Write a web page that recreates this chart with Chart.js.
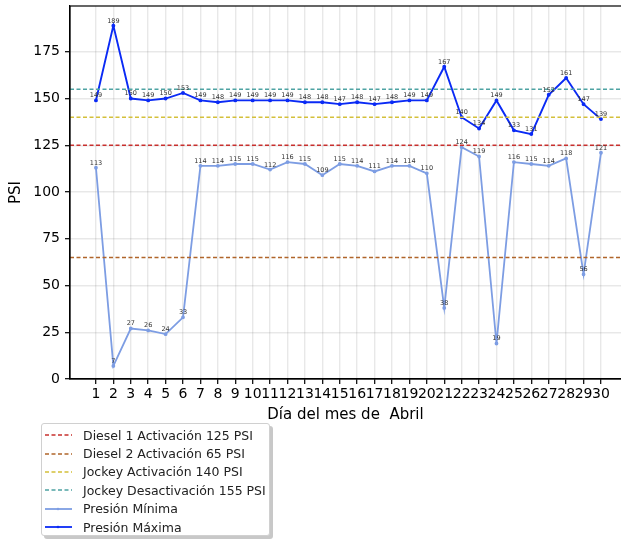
<!DOCTYPE html>
<html>
<head>
<meta charset="utf-8">
<script src="https://cdn.jsdelivr.net/npm/chart.js@4.4.0/dist/chart.umd.min.js"></script>
<style>
  body { margin: 0; background: #fff; }
  #wrap { position: relative; width: 621px; height: 539px; }
  #legend {
    position: absolute; left: 41px; top: 423px; width: 229px; height: 113px;
    border: 1px solid #d0d0d0; border-radius: 3px; background: #fff;
    box-shadow: 3px 3px 0 #c8c8c8;
    font-family: "DejaVu Sans", sans-serif; font-size: 12.5px; color: #222;
    box-sizing: border-box; padding-top: 2px;
  }
  #legend .row { height: 18.4px; display: flex; align-items: center; }
  #legend svg { margin-left: 3px; margin-right: 11px; }
</style>
</head>
<body>
<div id="wrap">
  <canvas id="psichart" width="621" height="539"></canvas>
  <div id="legend"></div>
</div>
<script>
var psiCanvas = document.getElementById("psichart");

/* data */
var days = [1,2,3,4,5,6,7,8,9,10,11,12,13,14,15,16,17,18,19,20,21,22,23,24,25,26,27,28,29,30];
var presionMinima = [113, 7, 27, 26, 24, 33, 114, 114, 115, 115, 112, 116, 115, 109, 115,
                     114, 111, 114, 114, 110, 38, 124, 119, 19, 116, 115, 114, 118, 56, 121];
var presionMaxima = [149, 189, 150, 149, 150, 153, 149, 148, 149, 149, 149, 149, 148, 148, 147,
                     148, 147, 148, 149, 149, 167, 140, 134, 149, 133, 131, 152, 161, 147, 139];
var umbrales = [125, 65, 140, 155];
var umbralLabels = ['Diesel 1 Activación 125 PSI', 'Diesel 2 Activación 65 PSI',
                    'Jockey Activación 140 PSI', 'Jockey Desactivación 155 PSI'];
var umbralColors = ['#c8302e', '#b0652a', '#d4c03a', '#4ea3a3'];
var yTicks = [0, 25, 50, 75, 100, 125, 150, 175];

var X_MIN = -0.49, X_MAX = 31.15;

var datasets = [];
umbrales.forEach(function (v, i) {
  datasets.push({
    label: umbralLabels[i],
    data: [{x: X_MIN, y: v}, {x: X_MAX, y: v}],
    borderColor: umbralColors[i],
    borderWidth: 1.5,
    borderDash: [4, 2.5],
    pointRadius: 0,
    fill: false
  });
});
datasets.push({
  label: 'Presión Mínima',
  data: days.map(function (d, i) { return {x: d, y: presionMinima[i]}; }),
  borderColor: '#7d9de3',
  backgroundColor: '#7d9de3',
  borderWidth: 1.8,
  pointRadius: 1,
  fill: false,
  valueLabels: true
});
datasets.push({
  label: 'Presión Máxima',
  data: days.map(function (d, i) { return {x: d, y: presionMaxima[i]}; }),
  borderColor: '#0a2af5',
  backgroundColor: '#0a2af5',
  borderWidth: 1.9,
  pointRadius: 1,
  fill: false,
  valueLabels: true
});

// little numbers over each point
var valueLabelPlugin = {
  id: 'valueLabels',
  afterDatasetsDraw: function (chart) {
    var ctx = chart.ctx;
    ctx.save();
    ctx.font = '6.5px "DejaVu Sans"';
    ctx.fillStyle = '#333';
    ctx.textAlign = 'center';
    ctx.textBaseline = 'bottom';
    chart.data.datasets.forEach(function (ds, di) {
      if (!ds.valueLabels) return;
      chart.getDatasetMeta(di).data.forEach(function (pt, i) {
        ctx.fillText(ds.data[i].y, pt.x, pt.y - 1.5);
      });
    });
    ctx.restore();
  }
};

// axes frame (top spine too)
var framePlugin = {
  id: 'frame',
  afterDraw: function (chart) {
    var a = chart.chartArea, ctx = chart.ctx;
    ctx.save();
    ctx.strokeStyle = '#000';
    ctx.lineWidth = 1.2;
    ctx.strokeRect(a.left, a.top, a.right - a.left + 2, a.bottom - a.top);
    ctx.restore();
  }
};

var psiChart = new Chart(psiCanvas, {
  type: 'line',
  data: { datasets: datasets },
  plugins: [valueLabelPlugin, framePlugin],
  options: {
    responsive: false,
    animation: false,
    layout: { autoPadding: false, padding: { top: 6, right: 0, left: 0, bottom: 113 } },
    plugins: { legend: { display: false }, tooltip: { enabled: false } },
    scales: {
      x: {
        type: 'linear',
        min: X_MIN,
        max: X_MAX,
        afterBuildTicks: function (s) { s.ticks = days.map(function (d) { return {value: d}; }); },
        afterFit: function (s) { s.height = 47; s.paddingLeft = 0; s.paddingRight = 0; },
        ticks: { color: '#000', font: { family: 'DejaVu Sans', size: 14 }, padding: 2, maxRotation: 0, autoSkip: false },
        grid: { color: 'rgba(0,0,0,0.09)', lineWidth: 1.4, tickColor: '#000', tickLength: 5, tickWidth: 1.2 },
        border: { display: true, color: '#000', width: 1.2 },
        title: { display: true, text: 'Día del mes de  Abril', color: '#000',
                 font: { family: 'DejaVu Sans', size: 15 }, padding: { top: 0, bottom: 2 } }
      },
      y: {
        min: 0,
        max: 199.5,
        afterBuildTicks: function (s) { s.ticks = yTicks.map(function (v) { return {value: v}; }); },
        afterFit: function (s) { s.width = 70; s.paddingTop = 0; s.paddingBottom = 0; },
        ticks: { color: '#000', font: { family: 'DejaVu Sans', size: 14 }, padding: 5 },
        grid: { color: 'rgba(0,0,0,0.09)', lineWidth: 1.4, tickColor: '#000', tickLength: 5, tickWidth: 1.2 },
        border: { display: true, color: '#000', width: 1.2 },
        title: { display: true, text: 'PSI', color: '#000',
                 font: { family: 'DejaVu Sans', size: 15 }, padding: { top: 7, bottom: 0 } }
      }
    }
  }
});

// legend as html below the chart, built from the datasets
var legendDiv = document.getElementById('legend');
psiChart.data.datasets.forEach(function (ds) {
  var row = document.createElement('div');
  row.className = 'row';
  var dash = ds.borderDash ? 'stroke-dasharray="4 2.5"' : '';
  var dot = ds.borderDash ? '' : '<circle cx="13" cy="5" r="1.3" fill="' + ds.borderColor + '"/>';
  row.innerHTML = '<svg width="27" height="10"><line x1="0" y1="5" x2="27" y2="5" stroke="' +
    ds.borderColor + '" stroke-width="' + (ds.borderDash ? 1.5 : 1.8) + '" ' + dash + '/>' + dot + '</svg>' +
    '<span>' + ds.label + '</span>';
  legendDiv.appendChild(row);
});
</script>
</body>
</html>
